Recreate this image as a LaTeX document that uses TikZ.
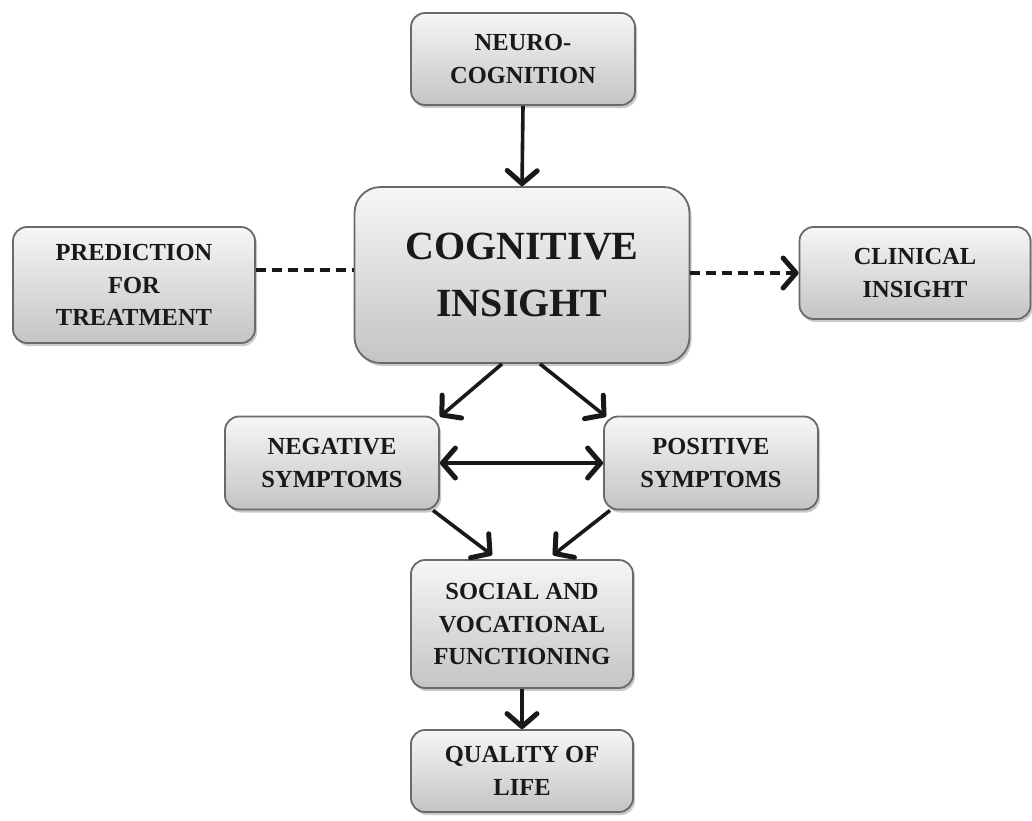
\documentclass[tikz,border=0pt]{standalone}
\usepackage{fontspec}
\setmainfont{Liberation Serif}
\usetikzlibrary{arrows.meta,shadows}
\definecolor{bordc}{RGB}{105,105,105}
\definecolor{topc}{RGB}{246,246,246}
\definecolor{botc}{RGB}{196,196,196}
\definecolor{txtc}{RGB}{25,25,25}
\definecolor{linec}{RGB}{25,25,25}
\tikzset{vtip/.tip={Straight Barb[length=13pt,width=30pt,line width=5pt,round]}}
\begin{document}
\begin{tikzpicture}[x=1pt,y=-1pt,
  box/.style={draw=bordc, line width=1.8pt, rounded corners=14pt,
    top color=topc, bottom color=botc, text=txtc, align=center,
    inner sep=0pt, font=\bfseries\fontsize{24.5}{32.5}\selectfont,
    drop shadow={shadow xshift=2pt, shadow yshift=-3pt, opacity=0.35, fill=black!60}},
  arr/.style={draw=linec, line width=3.6pt, -vtip},
  darr/.style={draw=linec, line width=3.6pt, vtip-vtip},
  dline/.style={draw=linec, line width=3.6pt, dash pattern=on 10pt off 6pt},
  dasharr/.style={dline, -vtip}
]
\fill[white] (0,0) rectangle (1032,820);
\useasboundingbox (0,0) rectangle (1032,820);

\node[box, minimum width=224pt, minimum height=92pt] (neuro) at (523,59) {NEURO-\\COGNITION};
\node[box, minimum width=335pt, minimum height=176pt, rounded corners=26pt,
      font=\bfseries\fontsize{40}{57}\selectfont] (cog) at (522,275) {COGNITIVE\\INSIGHT};
\node[box, minimum width=242pt, minimum height=116pt] (pred) at (134,285) {PREDICTION\\FOR\\TREATMENT};
\node[box, minimum width=231pt, minimum height=92pt] (clin) at (915,273) {CLINICAL\\INSIGHT};
\node[box, minimum width=214pt, minimum height=93pt] (neg) at (332,463) {NEGATIVE\\SYMPTOMS};
\node[box, minimum width=214pt, minimum height=93pt] (pos) at (711,463) {POSITIVE\\SYMPTOMS};
\node[box, minimum width=222pt, minimum height=128pt] (soc) at (522,624) {SOCIAL AND\\VOCATIONAL\\FUNCTIONING};
\node[box, minimum width=222pt, minimum height=82pt] (qol) at (522,771) {QUALITY OF\\LIFE};

\draw[arr] (neuro.south) -- (cog.north);
\draw[dline] ([yshift=15pt]pred.east) -- ([yshift=5pt]cog.west);
\draw[dasharr] (cog.east |- clin.west) -- (clin.west);
\draw[arr] ([xshift=-20pt]cog.south) -- ([xshift=108pt,yshift=-1pt]neg.north);
\draw[arr] ([xshift=18pt]cog.south) -- ([xshift=-105pt,yshift=-1pt]pos.north);
\draw[darr] (neg.east) -- (pos.west);
\draw[arr] ([xshift=101pt]neg.south) -- ([xshift=-30pt,yshift=4pt]soc.north);
\draw[arr] ([xshift=-101pt]pos.south) -- ([xshift=31pt,yshift=4pt]soc.north);
\draw[arr] (soc.south) -- (qol.north);
\end{tikzpicture}
\end{document}
